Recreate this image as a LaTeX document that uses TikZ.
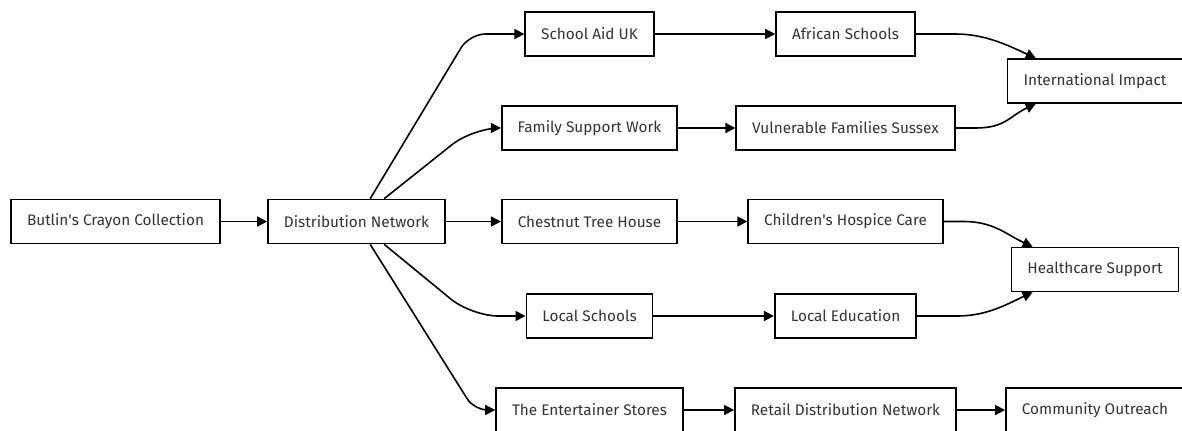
\documentclass[tikz,border=0pt]{standalone}
\usepackage{fontspec}
\setmainfont{Fira Sans}
\usepackage{tikz}
\usetikzlibrary{calc}
\usetikzlibrary{arrows.meta}

\tikzset{
    box/.style={draw, line width=1.2pt, minimum height=33pt, inner xsep=12pt,
        font=\fontsize{11.5}{13}\selectfont, text=black!80},
    flow/.style={line width=1.2pt, -{Triangle[length=7.5pt,width=7.5pt]}},
}

\begin{document}
\begin{tikzpicture}[x=0.75pt, y=-0.75pt]
        \def\colA{589.5}
        \def\colB{845.5}
        \def\colC{1095}

        \useasboundingbox (0,0) rectangle (1182,430);

        \node[box] (crayons) at (115.5,221.5) {Butlin\textquotesingle s Crayon Collection};
        \node[box] (network) at (356.5,221.5) {Distribution Network};

        \node[box] (schoolaid) at (\colA,34) {School Aid UK};
        \node[box] (family) at (\colA,128) {Family Support Work};
        \node[box] (chestnut) at (\colA,221.5) {Chestnut Tree House};
        \node[box] (localschools) at (\colA,316) {Local Schools};
        \node[box] (entertainer) at (\colA,410) {The Entertainer Stores};

        \node[box] (african) at (\colB,34) {African Schools};
        \node[box] (vulnerable) at (\colB,128) {Vulnerable Families Sussex};
        \node[box] (hospice) at (\colB,221.5) {Children\textquotesingle s Hospice Care};
        \node[box] (education) at (\colB,316) {Local Education};
        \node[box] (retail) at (\colB,410) {Retail Distribution Network};

        \node[box] (impact) at (\colC,81) {International Impact};
        \node[box] (healthcare) at (\colC,269.5) {Healthcare Support};
        \node[box] (outreach) at (\colC,410) {Community Outreach};

        \draw[flow] (crayons) -- (network);

        % Branches
        \draw[flow, rounded corners=12pt] ($(network.north west)+(103,0)$) -- ($(schoolaid.west)+(-55,0)$) -- (schoolaid.west);
        \draw[flow, rounded corners=20pt] ($(network.north west)+(117,0)$) -- ($(family.west)+(-28,0)$) -- (family.west);
        \draw[flow] (network) -- (chestnut);
        \draw[flow, rounded corners=20pt] ($(network.south west)+(117,0)$) -- ($(localschools.west)+(-54,0)$) -- (localschools.west);
        \draw[flow, rounded corners=10pt] ($(network.south west)+(103,0)$) -- ($(entertainer.west)+(-21,0)$) -- (entertainer.west);

        \draw[flow] (schoolaid) -- (african);
        \draw[flow] (family) -- (vulnerable);
        \draw[flow] (chestnut) -- (hospice);
        \draw[flow] (localschools) -- (education);
        \draw[flow] (entertainer) -- (retail);
        \draw[flow] (retail) -- (outreach);

        % Merges
        \draw[flow] (african.east) -- ++(40,0) .. controls +(30,0) and +(-26,-12) .. ($(impact.north west)+(29,0)$);
        \draw[flow] (vulnerable.east) -- ++(20,0) .. controls +(30,0) and +(-26,12) .. ($(impact.south west)+(29,0)$);
        \draw[flow] (hospice.east) -- ++(20,0) .. controls +(30,0) and +(-26,-12) .. ($(healthcare.north west)+(22,0)$);
        \draw[flow] (education.east) -- ++(40,0) .. controls +(30,0) and +(-26,12) .. ($(healthcare.south west)+(22,0)$);
    \end{tikzpicture}
\end{document}
